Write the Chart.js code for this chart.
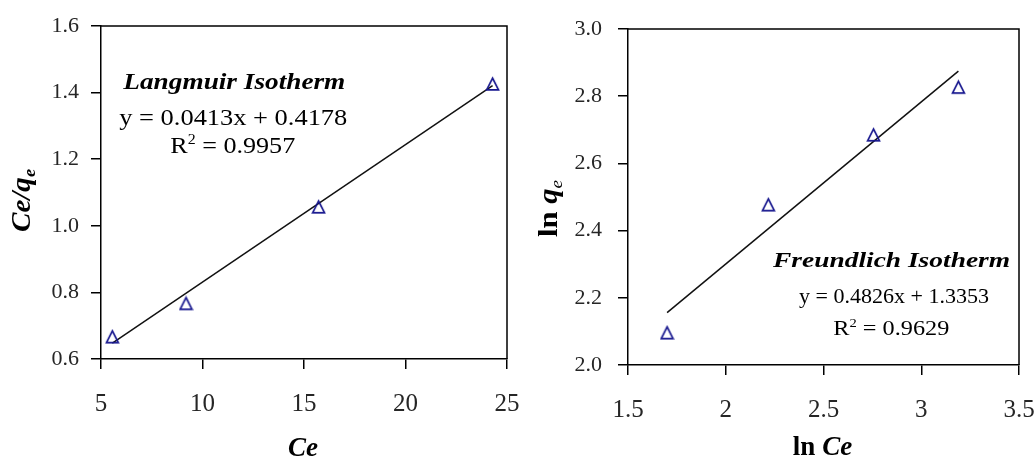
<!DOCTYPE html>
<html>
<head>
<meta charset="utf-8">
<script src="https://cdn.jsdelivr.net/npm/chart.js@4/dist/chart.umd.min.js"></script>
<style>
  html, body { margin: 0; padding: 0; background: #fff; }
  #wrap { position: relative; width: 1035px; height: 460px; overflow: hidden; }
  .panel { position: absolute; top: 0; height: 460px; }
  #p1 { left: 0; width: 540px; }
  #p2 { left: 517px; width: 518px; }
</style>
</head>
<body>
<div id="wrap">
  <div class="panel" id="p1"><canvas id="langmuir"></canvas></div>
  <div class="panel" id="p2"><canvas id="freundlich"></canvas></div>
</div>
<script>
// Langmuir linear form: Ce/qe plotted against Ce
const langmuirCe = [5.56, 9.19, 15.72, 24.29];
const langmuirRatio = [0.667, 0.767, 1.057, 1.426];
const langmuirSlope = 0.0413;
const langmuirIntercept = 0.4178;
const langmuirR2 = 0.9957;
const langmuirXTicks = [5, 10, 15, 20, 25];
const langmuirYTicks = [0.6, 0.8, 1.0, 1.2, 1.4, 1.6];

// Freundlich linear form: ln qe plotted against ln Ce
const freundlichLnCe = [1.70, 2.218, 2.756, 3.19];
const freundlichLnQe = [2.096, 2.477, 2.685, 2.827];
const freundlichSlope = 0.4826;
const freundlichIntercept = 1.3353;
const freundlichR2 = 0.9629;
const freundlichXTicks = [1.5, 2, 2.5, 3, 3.5];
const freundlichYTicks = [2.0, 2.2, 2.4, 2.6, 2.8, 3.0];

const SERIF = '"Liberation Serif", "Times New Roman", serif';
const f = (style, size) => `${style} ${size}px ${SERIF}`;

// hollow navy triangle used as the point marker
function triangleMarker() {
  const c = document.createElement('canvas');
  c.width = 15; c.height = 16;
  const g = c.getContext('2d');
  g.strokeStyle = '#16168e';
  g.lineWidth = 1.7;
  g.beginPath();
  g.moveTo(7.5, 2.2);
  g.lineTo(13.4, 13.8);
  g.lineTo(1.6, 13.8);
  g.closePath();
  g.stroke();
  return c;
}
const marker = triangleMarker();

// draws a row of text runs (mixed fonts, sub/superscripts), optionally fitted to a width
function drawRuns(ctx, runs, x, y, opt) {
  opt = opt || {};
  let total = 0;
  runs.forEach(r => { ctx.font = r.font; r.w = ctx.measureText(r.t).width; total += r.w; });
  const sx = opt.width ? opt.width / total : 1;
  ctx.save();
  ctx.translate(x, y);
  if (opt.rotate) ctx.rotate(opt.rotate);
  ctx.scale(sx, 1);
  ctx.fillStyle = opt.color || '#000';
  ctx.textAlign = 'left';
  ctx.textBaseline = 'alphabetic';
  let cx = opt.center ? -total / 2 : 0;
  runs.forEach(r => { ctx.font = r.font; ctx.fillText(r.t, cx, r.dy || 0); cx += r.w; });
  ctx.restore();
}

function axis(pos, tickVals, fmt, fontSize, pad, size) {
  const horizontal = pos === 'bottom';
  return {
    type: 'linear',
    position: pos,
    min: tickVals[0],
    max: tickVals[tickVals.length - 1],
    afterBuildTicks: s => { s.ticks = tickVals.map(v => ({ value: v })); },
    afterFit: s => {
      if (horizontal) { s.height = size; s.paddingLeft = 0; s.paddingRight = 0; }
      else { s.width = size; s.paddingTop = 0; s.paddingBottom = 0; }
    },
    grid: { display: true, drawOnChartArea: false, drawTicks: true, tickLength: 10, color: '#000', lineWidth: 1.5 },
    border: { display: true, color: '#000', width: 1.5 },
    ticks: {
      font: { family: SERIF, size: fontSize },
      color: '#262626',
      padding: pad,
      maxRotation: 0,
      autoSkip: false,
      callback: fmt
    },
    title: { display: false }
  };
}

function panelPlugin(spec) {
  return {
    id: 'panelText',
    afterDraw(chart) {
      const { ctx, chartArea: a, scales } = chart;
      // close the box on the top and right sides
      ctx.save();
      ctx.strokeStyle = '#000';
      ctx.lineWidth = 1.5;
      ctx.beginPath();
      ctx.moveTo(a.left, a.top);
      ctx.lineTo(a.right, a.top);
      ctx.lineTo(a.right, a.bottom);
      ctx.stroke();
      ctx.restore();
      // fit annotation
      spec.notes.forEach(n => {
        drawRuns(ctx, n.runs, scales.x.getPixelForValue(n.x), scales.y.getPixelForValue(n.y), { width: n.width });
      });
      // axis titles
      drawRuns(ctx, spec.xTitle, (a.left + a.right) / 2 + spec.xTitleShift, spec.xTitleBase, { center: true });
      drawRuns(ctx, spec.yTitle, spec.yTitleBase, spec.yTitleMid, { center: true, rotate: -Math.PI / 2, width: spec.yTitleWidth });
    }
  };
}

function makePanel(id, d) {
  const points = d.xs.map((x, i) => ({ x, y: d.ys[i] }));
  const x0 = Math.min(...d.xs), x1 = Math.max(...d.xs);
  const fitLine = [x0, x1].map(x => ({ x, y: d.slope * x + d.intercept }));
  return new Chart(document.getElementById(id), {
    type: 'scatter',
    data: {
      datasets: [
        { data: fitLine, showLine: true, borderColor: '#111', borderWidth: 1.5, pointRadius: 0, pointHoverRadius: 0, order: 2 },
        { data: points, pointStyle: marker, pointRadius: 8, pointHoverRadius: 8, order: 1 }
      ]
    },
    options: {
      responsive: true,
      maintainAspectRatio: false,
      animation: false,
      devicePixelRatio: 1,
      events: [],
      layout: { padding: { top: d.padTop, right: d.padRight, left: 0, bottom: 0 } },
      plugins: { legend: { display: false }, tooltip: { enabled: false } },
      scales: {
        x: axis('bottom', d.xTicks, d.xFmt, 25, 20, d.xAxisH),
        y: axis('left', d.yTicks, v => v.toFixed(1), 22, d.yPad, d.yAxisW)
      }
    },
    plugins: [panelPlugin(d)]
  });
}

const eqText = (m, b) => `y = ${m.toFixed(4)}x + ${b.toFixed(4)}`;

makePanel('langmuir', {
  xs: langmuirCe, ys: langmuirRatio,
  slope: langmuirSlope, intercept: langmuirIntercept,
  xTicks: langmuirXTicks, yTicks: langmuirYTicks,
  xFmt: v => String(v),
  padTop: 26, padRight: 33, xAxisH: 101, yAxisW: 101, yPad: 12,
  notes: [
    { x: 6.10, y: 1.411, width: 222, runs: [{ t: 'Langmuir Isotherm', font: f('italic bold', 23) }] },
    { x: 5.90, y: 1.303, width: 228, runs: [{ t: eqText(langmuirSlope, langmuirIntercept), font: f('normal', 24) }] },
    { x: 8.41, y: 1.2195, width: 125, runs: [
      { t: 'R', font: f('normal', 23) },
      { t: '2', font: f('normal', 14), dy: -9 },
      { t: ' = ' + langmuirR2.toFixed(4), font: f('normal', 23) }
    ] }
  ],
  xTitle: [{ t: 'Ce', font: f('italic bold', 27) }],
  xTitleShift: -1, xTitleBase: 456,
  yTitle: [{ t: 'Ce/q', font: f('italic bold', 27) }, { t: 'e', font: f('italic bold', 17), dy: 5 }],
  yTitleBase: 30, yTitleMid: 200.5, yTitleWidth: 63
});

makePanel('freundlich', {
  xs: freundlichLnCe, ys: freundlichLnQe,
  slope: freundlichSlope, intercept: freundlichIntercept,
  xTicks: freundlichXTicks, yTicks: freundlichYTicks,
  xFmt: v => String(v),
  padTop: 29, padRight: 16, xAxisH: 95, yAxisW: 111, yPad: 16,
  notes: [
    { x: 2.242, y: 2.292, width: 237, runs: [{ t: 'Freundlich Isotherm', font: f('italic bold', 20) }] },
    { x: 2.375, y: 2.185, width: 190, runs: [{ t: eqText(freundlichSlope, freundlichIntercept), font: f('normal', 21) }] },
    { x: 2.550, y: 2.089, width: 116, runs: [
      { t: 'R', font: f('normal', 20) },
      { t: '2', font: f('normal', 12), dy: -8 },
      { t: ' = ' + freundlichR2.toFixed(4), font: f('normal', 20) }
    ] }
  ],
  xTitle: [{ t: 'ln ', font: f('bold', 27) }, { t: 'Ce', font: f('italic bold', 27) }],
  xTitleShift: -1, xTitleBase: 455,
  yTitle: [{ t: 'ln ', font: f('bold', 27) }, { t: 'q', font: f('italic bold', 27) }, { t: 'e', font: f('italic', 17), dy: 5 }],
  yTitleBase: 40, yTitleMid: 208.5, yTitleWidth: 57
});
</script>
</body>
</html>
